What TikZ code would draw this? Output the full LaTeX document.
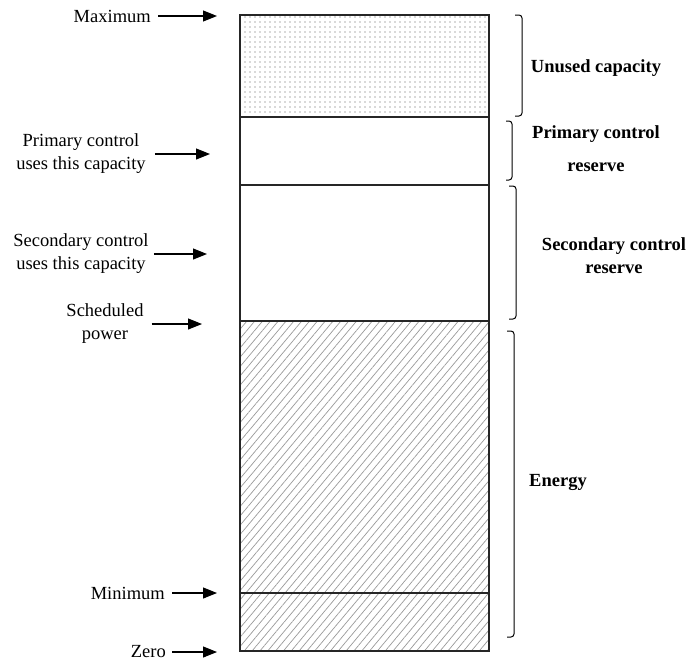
\documentclass[tikz,border=0pt]{standalone}
\usepackage{fontspec}
\setmainfont{LiberationSerif}[Extension=.ttf,UprightFont=*-Regular,BoldFont=*-Bold,ItalicFont=*-Italic,BoldItalicFont=*-BoldItalic]
\usetikzlibrary{arrows.meta,patterns.meta}
\begin{document}
\begin{tikzpicture}[x=1pt,y=-1pt,
  lbl/.style={inner sep=0pt,font=\fontsize{18.5}{23}\selectfont,align=center},
  side/.style={inner sep=0pt,font=\fontsize{18.5}{23}\selectfont\bfseries,align=center},
  pt/.style={line width=1.1pt,-{Triangle[length=14pt,width=11pt]}},
  band/.style={draw=black!85,line width=1.2pt},
  brk/.style={line width=1pt,rounded corners=3pt},
  dotfill/.style={pattern={Dots[distance=5pt,radius=0.8pt]},pattern color=black!30},
  hatch/.style={pattern={Lines[angle=50,distance=6pt,line width=0.7pt]},pattern color=black!40}]
\useasboundingbox (0,0) rectangle (698,662);

% capacity column
\coordinate (top) at (240,15);
\coordinate (bot) at (489,651);
\fill[dotfill] (240,15) rectangle (489,117);
\fill[hatch] (240,321) rectangle (489,651);
\draw[band] (top) rectangle (bot);
\draw[band] (240,117) -- (489,117);
\draw[band] (240,185) -- (489,185);
\draw[band] (240,321) -- (489,321);
\draw[band] (240,593) -- (489,593);

% left labels with pointers
\node[lbl,anchor=east] (maxlbl) at (151,16) {Maximum};
\coordinate (maxtip) at (217,16);
\draw[pt] (maxlbl.east) ++(7,0) -- (maxtip);

\node[lbl] (prilbl) at (81,154) {Primary control\\uses this capacity};
\coordinate (pritip) at (210,154);
\draw[pt] (prilbl.east) ++(9,0) -- (pritip);

\node[lbl] (seclbl) at (81,254) {Secondary control\\uses this capacity};
\coordinate (sectip) at (207,254);
\draw[pt] (seclbl.east) ++(5,0) -- (sectip);

\node[lbl] (schlbl) at (105,324) {Scheduled\\power};
\coordinate (schtip) at (202,324);
\draw[pt] (schlbl.east) ++(8,0) -- (schtip);

\node[lbl,anchor=east] (minlbl) at (165,593) {Minimum};
\coordinate (mintip) at (217,593);
\draw[pt] (minlbl.east) ++(7,0) -- (mintip);

\node[lbl,anchor=east] (zerolbl) at (166,652) {Zero};
\coordinate (zerotip) at (217,652);
\draw[pt] (zerolbl.east) ++(6,0) -- (zerotip);

% right brackets
\draw[brk] (515,15) -- (522,15) -- (522,116) -- (515,116);
\draw[brk] (506,121) -- (512,121) -- (512,180) -- (506,180);
\draw[brk] (509,186) -- (516,186) -- (516,319) -- (509,319);
\draw[brk] (507,331) -- (514,331) -- (514,637) -- (507,637);

% right labels
\node[side] (unused) at (596,68) {Unused capacity};
\node[side] (prires) at (596,148.5) {Primary control\\[10pt]reserve};
\node[side] (secres) at (614,256) {Secondary control\\reserve};
\node[side,anchor=west] (energy) at (529,482) {Energy};
\end{tikzpicture}
\end{document}
